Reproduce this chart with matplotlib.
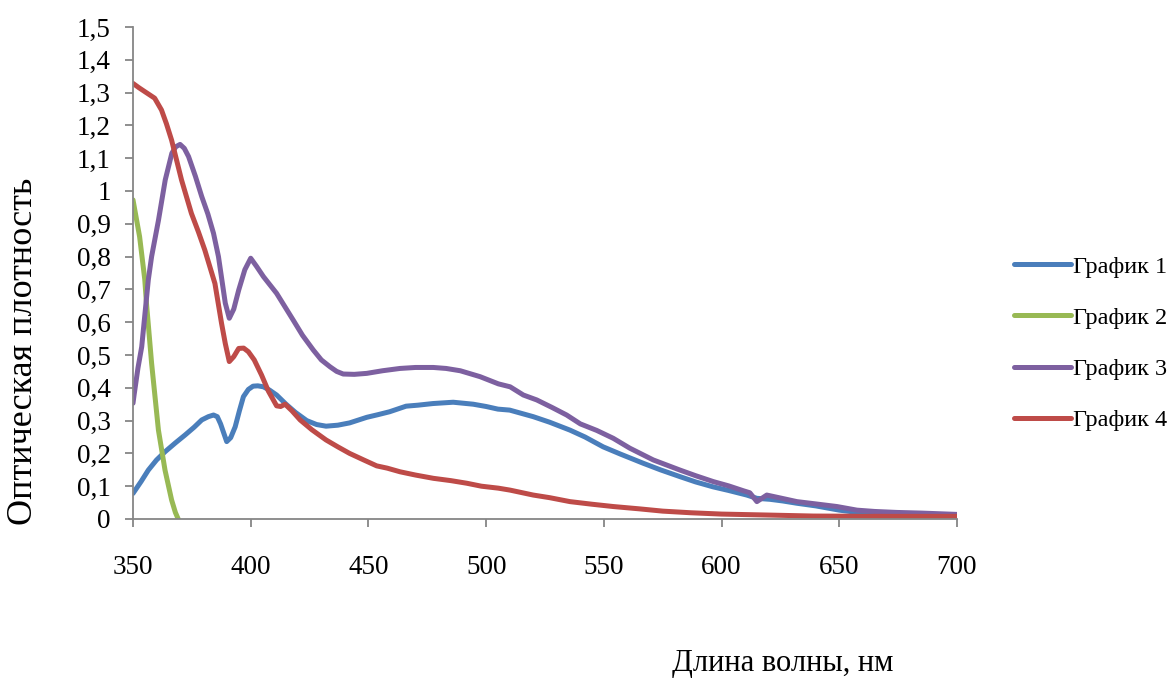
import matplotlib
matplotlib.use("Agg")
import matplotlib.pyplot as plt
from matplotlib.ticker import FixedLocator

# Spectra: wavelength (nm) and optical density
wl_1 = [350, 353.5, 356.5, 360, 363.6, 368, 372.1, 376, 379.2, 382, 384.2, 385.8, 387.2, 389.8, 391.5,
        393.4, 395.2, 396.9, 399, 401, 403, 405.4, 408, 411, 415, 419, 423.8, 428, 432, 437, 442,
        449.3, 454, 459, 466, 471, 477.4, 486, 494.5, 500, 505, 510, 520, 527, 535.6, 542, 549.7,
        557, 566.7, 574, 582.4, 589, 596.4, 603, 610.7, 615, 620.6, 626, 632, 640, 650, 660, 670, 680, 700]
od_1 = [0.078, 0.115, 0.149, 0.18, 0.205, 0.232, 0.256, 0.28, 0.302, 0.312, 0.317, 0.312, 0.29, 0.236, 0.248,
        0.281, 0.33, 0.373, 0.395, 0.405, 0.406, 0.403, 0.393, 0.378, 0.35, 0.325, 0.30, 0.288, 0.283, 0.286, 0.293,
        0.31, 0.318, 0.327, 0.344, 0.347, 0.352, 0.356, 0.35, 0.343, 0.335, 0.332, 0.312, 0.295, 0.271, 0.25, 0.22,
        0.198, 0.17, 0.15, 0.129, 0.113, 0.098, 0.087, 0.073, 0.063, 0.06, 0.055, 0.048, 0.04, 0.027, 0.018,
        0.015, 0.013, 0.01]

wl_2 = [350, 352.8, 355, 355.7, 357.9, 360.8, 363.6, 366.4, 368, 369.2]
od_2 = [0.973, 0.861, 0.73, 0.66, 0.475, 0.271, 0.149, 0.058, 0.02, 0.0]

wl_3 = [350, 350.5, 352.1, 353.7, 355, 356.5, 357.9, 360.8, 363.7, 366.5, 368.2, 370, 371.8, 373.6,
        376.5, 379.2, 381.8, 384.2, 386.3, 389.2, 390.9, 392.8, 394.9, 397.5, 400, 402.5, 405.4,
        411, 418, 422, 426.6, 430, 433.7, 436.5, 439.3, 444, 449.3, 456, 463.4, 470, 477.6, 483,
        489, 497.4, 505.2, 510.2, 515.8, 521.5, 528, 534.2, 540, 547, 554, 561, 571, 582.4, 589,
        596.5, 603, 609.3, 612, 615, 619.2, 625, 632, 640, 649, 657.5, 665, 674.5, 685, 700]
od_3 = [0.353, 0.38, 0.46, 0.525, 0.62, 0.729, 0.80, 0.91, 1.034, 1.115, 1.135, 1.142, 1.13, 1.105,
        1.045, 0.983, 0.93, 0.871, 0.80, 0.658, 0.612, 0.64, 0.698, 0.76, 0.795, 0.77, 0.739,
        0.688, 0.607, 0.56, 0.515, 0.485, 0.464, 0.45, 0.442, 0.441, 0.444, 0.452, 0.459, 0.462, 0.462, 0.459,
        0.452, 0.434, 0.412, 0.403, 0.378, 0.363, 0.34, 0.317, 0.29, 0.27, 0.246, 0.216, 0.18, 0.149, 0.132,
        0.114, 0.101, 0.086, 0.08, 0.053, 0.073, 0.064, 0.053, 0.046, 0.038, 0.027, 0.023, 0.02, 0.018, 0.014]

wl_4 = [350, 352.5, 355, 359.2, 362.1, 364.2, 366.4, 370.6, 374.8, 377.8, 380.5, 384.8, 387.6,
        389.2, 390.9, 392.8, 394.9, 397, 399, 401.5, 404.6, 407.5, 411, 412.7, 414.6, 417.5, 421,
        426, 432, 437, 442, 448, 453.5, 458, 463.4, 470, 477.6, 485, 491.8, 498, 505.2, 510.2, 520,
        527, 535.6, 545, 554, 565, 575, 587, 600, 620, 639, 670, 700]
od_4 = [1.328, 1.315, 1.303, 1.283, 1.247, 1.205, 1.155, 1.034, 0.932, 0.875, 0.82, 0.718, 0.597,
        0.535, 0.48, 0.495, 0.52, 0.521, 0.51, 0.485, 0.439, 0.39, 0.345, 0.343, 0.35, 0.33, 0.302,
        0.272, 0.241, 0.22, 0.2, 0.18, 0.162, 0.155, 0.144, 0.134, 0.124, 0.117, 0.109, 0.1, 0.094, 0.088, 0.073,
        0.065, 0.053, 0.045, 0.038, 0.031, 0.024, 0.019, 0.015, 0.012, 0.009, 0.008, 0.008]

labels = ["График 1", "График 2", "График 3", "График 4"]
colors = ["#4A7EBB", "#98B954", "#7D60A0", "#BE4B48"]

x_ticks = [350, 400, 450, 500, 550, 600, 650, 700]
y_ticks = [0, 0.1, 0.2, 0.3, 0.4, 0.5, 0.6, 0.7, 0.8, 0.9, 1.0, 1.1, 1.2, 1.3, 1.4, 1.5]
y_tick_labels = ["0", "0,1", "0,2", "0,3", "0,4", "0,5", "0,6", "0,7", "0,8", "0,9",
                 "1", "1,1", "1,2", "1,3", "1,4", "1,5"]

plt.rcParams["font.family"] = ["Liberation Serif", "DejaVu Serif"]

W, H = 1174, 678
fig = plt.figure(figsize=(W / 100, H / 100), dpi=100)
ax = fig.add_axes([133 / W, 1 - 519 / H, (957 - 133) / W, (519 - 27) / H])

series = [(wl_1, od_1), (wl_2, od_2), (wl_3, od_3), (wl_4, od_4)]
handles = []
for (x, y), lab, c in zip(series, labels, colors):
    h, = ax.plot(x, y, color=c, lw=3.6, label=lab,
                 solid_joinstyle="round", solid_capstyle="round")
    handles.append(h)

ax.set_xlim(350, 700)
ax.set_ylim(0, 1.5)
ax.xaxis.set_major_locator(FixedLocator(x_ticks))
ax.yaxis.set_major_locator(FixedLocator(y_ticks))
ax.set_yticklabels(y_tick_labels)

for s in ["top", "right"]:
    ax.spines[s].set_visible(False)
for s in ["left", "bottom"]:
    ax.spines[s].set_color("#868686")
    ax.spines[s].set_linewidth(1.3)

ax.tick_params(axis="both", direction="out", length=6, width=1.3, color="#868686",
               labelsize=19.5, labelcolor="black")
ax.tick_params(axis="x", pad=20)
ax.tick_params(axis="y", pad=10)

fig.text(24 / W, 1 - 351 / H, "Оптическая плотность", rotation=90,
         ha="center", va="center", fontsize=26)
fig.text(783 / W, 1 - 663 / H, "Длина волны, нм", ha="center", va="center", fontsize=22)

fig.legend(handles=handles, labels=labels, loc="upper left",
           bbox_to_anchor=(1004 / W, 1 - 246 / H), frameon=False,
           fontsize=17.5, handlelength=2.35, handletextpad=0.08, labelspacing=1.2,
           borderaxespad=0)

fig.savefig("out.png", dpi=100)
